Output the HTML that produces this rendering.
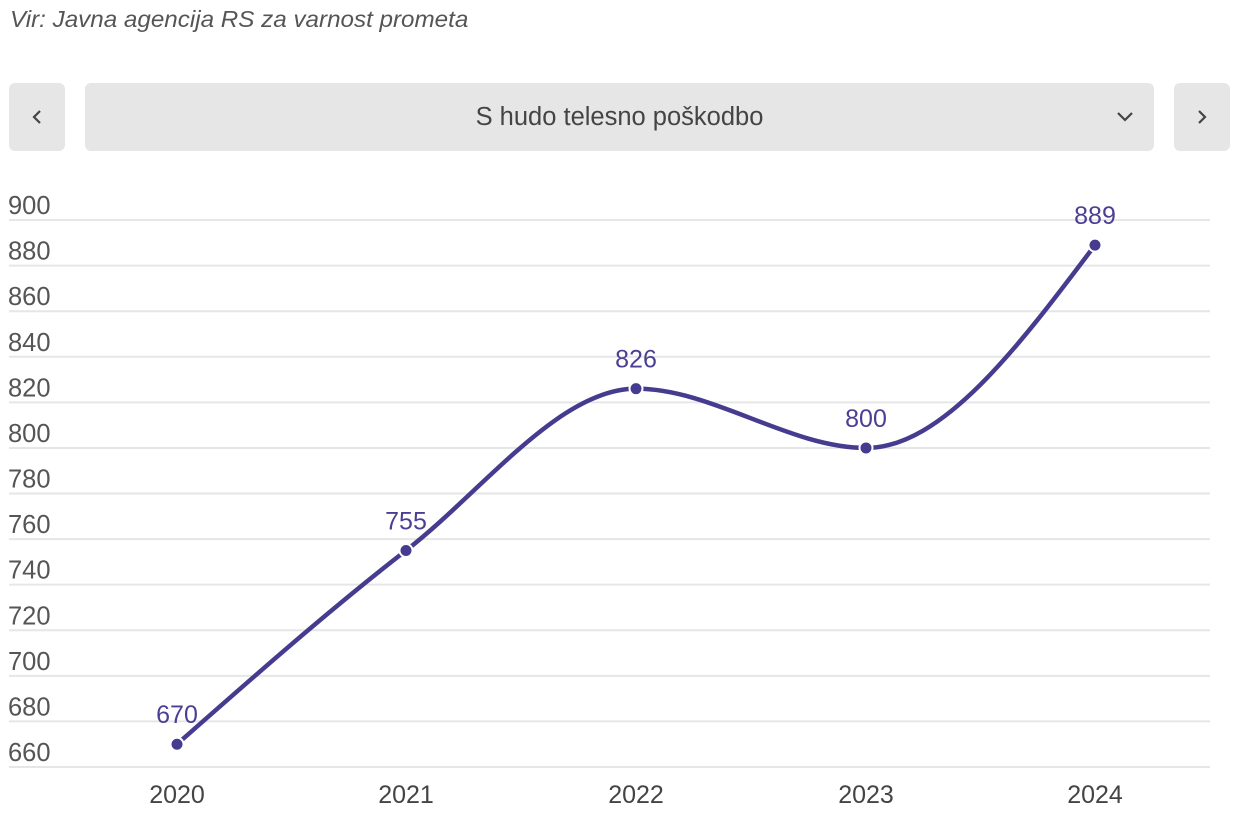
<!DOCTYPE html>
<html><head><meta charset="utf-8"><style>
body{margin:0;width:1256px;height:832px;background:#fff;font-family:"Liberation Sans",sans-serif;overflow:hidden;position:relative}
.src{position:absolute;left:10px;top:6px;font-style:italic;font-size:23.5px;color:#555;transform:scaleX(1.03);transform-origin:left}
.btn{position:absolute;top:83px;height:68px;background:#e6e6e6;border-radius:6px;color:#444;display:flex;align-items:center;justify-content:center}
</style></head><body>
<div class="src">Vir: Javna agencija RS za varnost prometa</div>
<div class="btn" style="left:9px;width:56px"><svg width="14" height="18"><path d="M10 3 L4 9 L10 15" stroke="#444" stroke-width="2.2" fill="none"/></svg></div>
<div class="btn" style="left:85px;width:1069px;font-size:25.5px">S hudo telesno poškodbo
<svg style="position:absolute;right:20px;top:26px" width="18" height="14"><path d="M2 4 L9 11 L16 4" stroke="#444" stroke-width="2.2" fill="none"/></svg></div>
<div class="btn" style="left:1174px;width:56px"><svg width="14" height="18"><path d="M4 3 L10 9 L4 15" stroke="#444" stroke-width="2.2" fill="none"/></svg></div>
<svg id="c" width="1256" height="832" style="position:absolute;left:0;top:0" font-family="Liberation Sans, sans-serif"></svg>
<script>
var s=document.getElementById('c'),h='';
function Y(v){return 767-(v-660)*45.58/20;}
for(var v=660;v<=900;v+=20){var y=Y(v);h+='<line x1="9" x2="1210" y1="'+y+'" y2="'+y+'" stroke="#e6e6e6" stroke-width="2"/>';h+='<text x="8" y="'+(y-6)+'" font-size="25.5" fill="#555">'+v+'</text>';}
var xs=[177,406,636,866,1095],vs=[670,755,826,800,889],yrs=[2020,2021,2022,2023,2024];
var ys=vs.map(Y);
for(var i=0;i<5;i++)h+='<text x="'+xs[i]+'" y="803" font-size="25" fill="#444" text-anchor="middle">'+yrs[i]+'</text>';
var n=5,d=[],m=[];
for(i=0;i<n-1;i++)d[i]=(ys[i+1]-ys[i])/(xs[i+1]-xs[i]);
for(i=1;i<n-1;i++){if(d[i-1]*d[i]<=0)m[i]=0;else{var h0=xs[i]-xs[i-1],h1=xs[i+1]-xs[i];var p=(d[i-1]*h1+d[i]*h0)/(h0+h1);var t=(Math.sign(d[i-1])+Math.sign(d[i]))*Math.min(Math.abs(d[i-1]),Math.abs(d[i]),0.5*Math.abs(p));m[i]=t;}}
m[0]=(3*d[0]-m[1])/2;m[n-1]=(3*d[n-2]-m[n-2])/2;
var p='M'+xs[0]+','+ys[0];
for(i=0;i<n-1;i++){var dx=(xs[i+1]-xs[i])/3;p+=' C'+(xs[i]+dx)+','+(ys[i]+m[i]*dx)+' '+(xs[i+1]-dx)+','+(ys[i+1]-m[i+1]*dx)+' '+xs[i+1]+','+ys[i+1];}
h+='<path d="'+p+'" stroke="#463c8f" stroke-width="4.5" fill="none"/>';
for(i=0;i<n;i++){h+='<circle cx="'+xs[i]+'" cy="'+ys[i]+'" r="6.5" fill="#463c8f" stroke="#fff" stroke-width="2"/>';h+='<text x="'+xs[i]+'" y="'+(ys[i]-21)+'" font-size="25" fill="#4b3f94" text-anchor="middle">'+vs[i]+'</text>';}
s.innerHTML=h;
</script>
</body></html>
